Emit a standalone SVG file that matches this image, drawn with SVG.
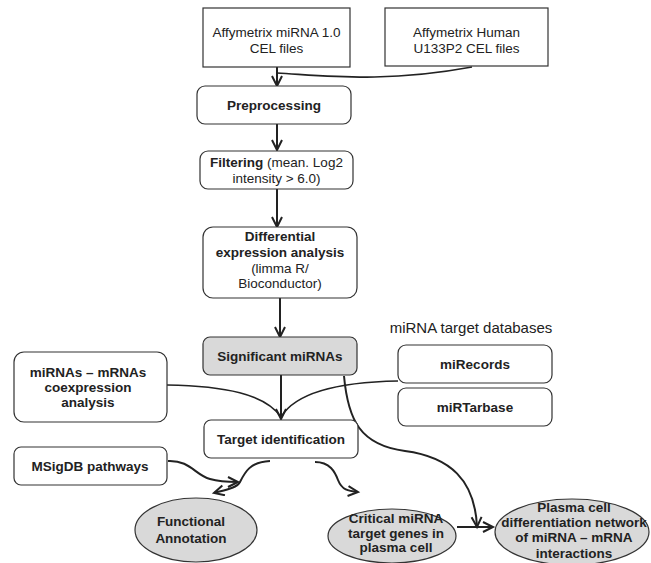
<svg xmlns="http://www.w3.org/2000/svg" width="651" height="563" viewBox="0 0 651 563">
<style>
.box{fill:#fff;stroke:#333;stroke-width:1.2}
.gray{fill:#d9d9d9;stroke:#333;stroke-width:1.2}
.t{font-family:"Liberation Sans",Arial,sans-serif;font-size:13.5px;fill:#222;text-anchor:middle}
.b{font-weight:bold}
.c{fill:none;stroke:#222;stroke-width:2}
</style>
<defs>
<marker id="arr" markerUnits="userSpaceOnUse" markerWidth="14" markerHeight="14" refX="11" refY="6" orient="auto">
<path d="M1,1 L11,6 L1,11" fill="none" stroke="#222" stroke-width="2"/>
</marker>
</defs>
<rect width="651" height="563" fill="#fff"/>
<g id="connectors">
<path class="c" d="M277,67 L277,86" marker-end="url(#arr)"/>
<path class="c" style="stroke-width:1.6" d="M277,73 C330,76 385,83 472,67"/>
<path class="c" d="M277,124 L277,150" marker-end="url(#arr)"/>
<path class="c" d="M277,189 L277,227" marker-end="url(#arr)"/>
<path class="c" d="M280,298 L280,337" marker-end="url(#arr)"/>
<path class="c" d="M281,375 L281,419" marker-end="url(#arr)"/>
<path class="c" style="stroke-width:1.6" d="M167,385 C225,386 265,394 281,417"/>
<path class="c" style="stroke-width:1.6" d="M398,381 C340,382 296,392 281,417"/>
<path class="c" d="M344,376 C348,420 360,445 405,451 C450,457 475,480 477,527" marker-end="url(#arr)"/>
<path class="c" d="M168,461 C190,460 195,475 210,479 C220,482 230,482 238,482" marker-end="url(#arr)"/>
<path class="c" d="M270,461 C250,462 245,472 240,482 C237,488 225,490 214,493" marker-end="url(#arr)"/>
<path class="c" d="M315,462 C330,462 335,472 338,480 C342,490 348,491 358,492" marker-end="url(#arr)"/>
<path class="c" d="M457,527 L493,527" marker-end="url(#arr)"/>
</g>
<g id="affy-mirna">
<rect class="box" x="203" y="8" width="147" height="59"/>
<text class="t" x="276.5" y="37">Affymetrix miRNA 1.0</text>
<text class="t" x="276.5" y="53">CEL files</text>
</g>
<g id="affy-human">
<rect class="box" x="385" y="8" width="163" height="58"/>
<text class="t" x="466.5" y="37">Affymetrix Human</text>
<text class="t" x="466.5" y="53">U133P2 CEL files</text>
</g>
<g id="preprocessing">
<rect class="box" x="197" y="86" width="154" height="38" rx="8"/>
<text class="t b" x="274" y="110">Preprocessing</text>
</g>
<g id="filtering">
<rect class="box" x="200" y="151" width="153" height="38" rx="8"/>
<text class="t" x="276.5" y="167"><tspan class="b">Filtering</tspan> (mean. Log2</text>
<text class="t" x="276.5" y="183">intensity &gt; 6.0)</text>
</g>
<g id="differential">
<rect class="box" x="203" y="227" width="154" height="71" rx="10"/>
<text class="t b" x="280" y="241">Differential</text>
<text class="t b" x="280" y="257">expression analysis</text>
<text class="t" x="280" y="273">(limma R/</text>
<text class="t" x="280" y="288">Bioconductor)</text>
</g>
<g id="significant">
<rect class="gray" x="203" y="337" width="154" height="38" rx="7"/>
<text class="t b" x="280" y="361">Significant miRNAs</text>
</g>
<text class="t" style="font-size:15px" x="471" y="333">miRNA target databases</text>
<g id="mirecords">
<rect class="box" x="398" y="345" width="154" height="38" rx="8"/>
<text class="t b" x="475" y="369">miRecords</text>
</g>
<g id="mirtarbase">
<rect class="box" x="398" y="388" width="154" height="38" rx="8"/>
<text class="t b" x="475" y="412">miRTarbase</text>
</g>
<g id="coexpression">
<rect class="box" x="14" y="352" width="153" height="70" rx="10"/>
<text class="t b" x="88" y="377">miRNAs – mRNAs</text>
<text class="t b" x="88" y="392">coexpression</text>
<text class="t b" x="88" y="407">analysis</text>
</g>
<g id="target">
<rect class="box" x="204" y="420" width="154" height="38" rx="7"/>
<text class="t b" x="281" y="444">Target identification</text>
</g>
<g id="msigdb">
<rect class="box" x="14" y="447" width="153" height="38" rx="7"/>
<text class="t b" x="90" y="471">MSigDB pathways</text>
</g>
<g id="functional">
<ellipse class="gray" cx="196" cy="530" rx="61" ry="32"/>
<text class="t b" x="191" y="526">Functional</text>
<text class="t b" x="191" y="543">Annotation</text>
</g>
<g id="critical">
<ellipse class="gray" cx="392" cy="536" rx="64" ry="27"/>
<text class="t b" x="396" y="523">Critical miRNA</text>
<text class="t b" x="396" y="538">target genes in</text>
<text class="t b" x="396" y="552">plasma cell</text>
</g>
<g id="plasma">
<ellipse class="gray" cx="572" cy="532" rx="77" ry="33"/>
<text class="t b" x="574" y="512">Plasma cell</text>
<text class="t b" x="574" y="527">differentiation  network</text>
<text class="t b" x="574" y="542">of miRNA – mRNA</text>
<text class="t b" x="574" y="558">interactions</text>
</g>
</svg>
